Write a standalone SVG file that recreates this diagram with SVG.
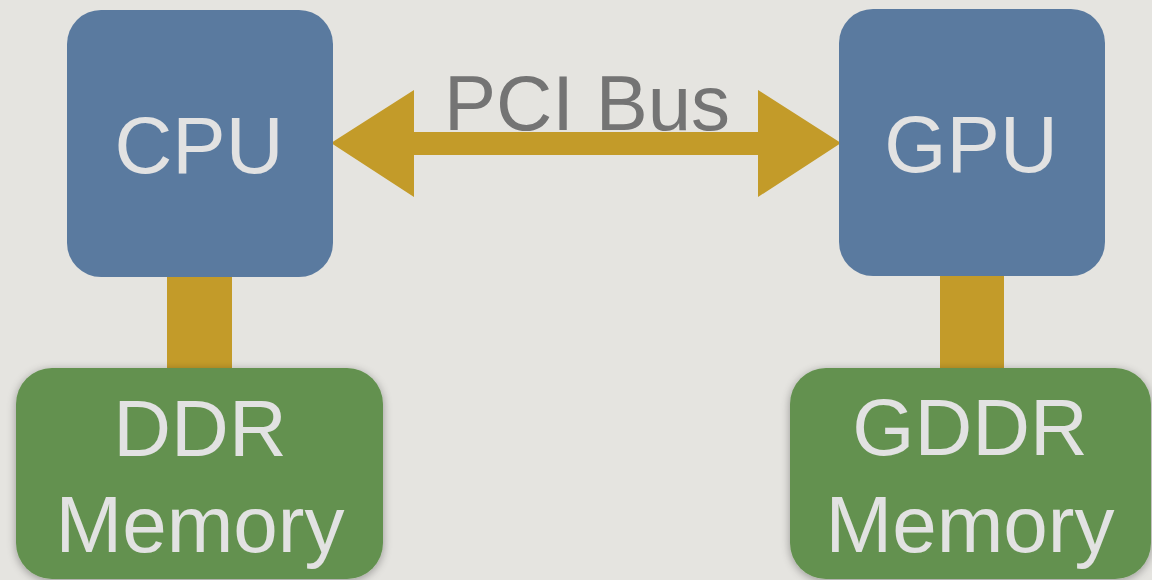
<svg xmlns="http://www.w3.org/2000/svg" width="1152" height="580" viewBox="0 0 1152 580">
  <defs>
    <filter id="shadow" x="-20%" y="-20%" width="140%" height="140%">
      <feGaussianBlur in="SourceAlpha" stdDeviation="5"/>
      <feOffset dx="0" dy="2" result="b"/>
      <feComponentTransfer><feFuncA type="linear" slope="0.35"/></feComponentTransfer>
      <feMerge><feMergeNode/><feMergeNode in="SourceGraphic"/></feMerge>
    </filter>
  </defs>
  <style>
    .bg { fill: #e5e4e0; }
    .proc { fill: #5a7a9f; }
    .mem { fill: #63914f; filter: url(#shadow); }
    .link { fill: #c39b29; }
    .lbl { font-family: "Liberation Sans", Arial, sans-serif; font-size: 80px; fill: #e2e2e2; text-anchor: middle; }
    .bus { font-family: "Liberation Sans", Arial, sans-serif; font-size: 78px; fill: #747474; text-anchor: middle; }
  </style>
  <rect class="bg" x="0" y="0" width="1152" height="580"/>

  <g id="connectors">
    <rect class="link" x="167" y="270" width="65" height="104"/>
    <rect class="link" x="940" y="270" width="64" height="104"/>
    <polygon id="pci-bus" class="link" points="331,143 414,90 414,132 758,132 758,90 841,143 758,197 758,155 414,155 414,197"/>
    <text class="bus" x="587" y="130">PCI Bus</text>
  </g>

  <g id="cpu">
    <rect class="proc" x="67" y="10" width="266" height="267" rx="34"/>
    <text class="lbl" x="199" y="173">CPU</text>
  </g>

  <g id="gpu">
    <rect class="proc" x="839" y="9" width="266" height="267" rx="34"/>
    <text class="lbl" x="971" y="172">GPU</text>
  </g>

  <g id="ddr-memory">
    <rect class="mem" x="16" y="368" width="367" height="211" rx="36"/>
    <text class="lbl" x="200" y="456">DDR</text>
    <text class="lbl" x="200" y="552">Memory</text>
  </g>

  <g id="gddr-memory">
    <rect class="mem" x="790" y="368" width="361" height="211" rx="36"/>
    <text class="lbl" x="970" y="455">GDDR</text>
    <text class="lbl" x="970" y="552">Memory</text>
  </g>
</svg>
